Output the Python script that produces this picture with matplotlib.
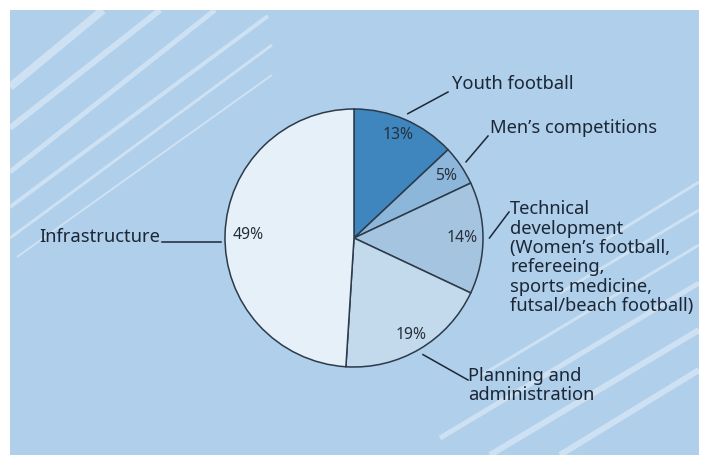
import matplotlib.pyplot as plt
from matplotlib.patches import Rectangle
import numpy as np

# data (shares in %)
categories = ["Youth football", "Men\u2019s competitions", "Technical development",
              "Planning and administration", "Infrastructure"]
shares = [13, 5, 14, 19, 49]
pct_labels = ["13%", "5%", "14%", "19%", "49%"]
label_lines = [
    ["Youth football"],
    ["Men\u2019s competitions"],
    ["Technical", "development", "(Women\u2019s football,", "refereeing,",
     "sports medicine,", "futsal/beach football)"],
    ["Planning and", "administration"],
    ["Infrastructure"],
]
colors = ["#3f86bf", "#8db7da", "#a5c4e0", "#c3d9ec", "#e5f0f8"]

W, H = 703, 455
BG = "#afcfeb"
TXT = "#1c2736"
EDGE = "#2c3a4a"

plt.rcParams['font.family'] = ['Noto Sans', 'DejaVu Sans']


def P(x, y):
    # picture pixels (y down) -> axes coords (y up)
    return x, H - y


fig = plt.figure(figsize=(W / 100, H / 100), dpi=100)
fig.patch.set_facecolor("white")
ax = fig.add_axes([0, 0, 1, 1])

# blue panel
ax.add_patch(Rectangle(P(10, 455), 689, 445, fc=BG, ec="none", zorder=0))

# decorative light stripes
stripes = [
    ((10, 87), (103, 10), 8), ((10, 128), (160, 10), 6), ((10, 172), (215, 10), 5),
    ((10, 207), (268, 16), 4), ((10, 238), (272, 45), 3), ((17, 257), (272, 75), 2),
    ((699, 182), (600, 243), 3), ((699, 210), (560, 293), 3), ((699, 245), (480, 376), 3),
    ((699, 283), (440, 438), 5), ((699, 330), (490, 455), 6), ((699, 370), (560, 455), 6),
]
for (x0, y0), (x1, y1), w in stripes:
    ax.plot([x0, x1], [H - y0, H - y1], color="white", alpha=0.38, lw=w * 0.72,
            solid_capstyle="butt", zorder=1)

cx, cy, R = 354, 238, 129
wedges, _ = ax.pie(shares, colors=colors, startangle=90, counterclock=False,
                   center=P(cx, cy), radius=R, frame=True,
                   wedgeprops=dict(edgecolor=EDGE, linewidth=1.1, zorder=2))

pct_dist = [0.87, 0.86, 0.84, 0.87, 0.82]
# leader end points and text anchors (picture pixels)
leader_end = [(448, 92), (488, 136), (509, 212), (468, 380), (162, 242)]
text_pos = [(452, 84), (490, 128), (510, 209), (468, 376), (160, 237)]
horizontal = [False, False, False, False, True]

for i, w in enumerate(wedges):
    th = np.deg2rad((w.theta1 + w.theta2) / 2)
    px = cx + R * pct_dist[i] * np.cos(th)
    py = H - cy + R * pct_dist[i] * np.sin(th)
    ax.text(px, py, pct_labels[i], ha="center", va="center", fontsize=11.3,
            color="#26303c", zorder=3)
    ex, ey = P(*leader_end[i])
    if horizontal[i]:
        r2 = R * 1.03
        sy = ey
        sx = cx + np.sign(np.cos(th)) * np.sqrt(r2 ** 2 - (sy - (H - cy)) ** 2)
    else:
        sx = cx + R * 1.05 * np.cos(th)
        sy = H - cy + R * 1.05 * np.sin(th)
    ax.plot([sx, ex], [sy, ey], color=TXT, lw=1.1, zorder=3)
    tx, ty = text_pos[i]
    ha = "right" if tx < cx else "left"
    for k, line in enumerate(label_lines[i]):
        ax.text(tx, H - (ty + k * 19.5), line, ha=ha, va="center",
                fontsize=13.2, color=TXT, zorder=3)

ax.set_xlim(0, W)
ax.set_ylim(0, H)
ax.set_aspect("equal")
ax.axis("off")

fig.savefig("out.png", dpi=100, facecolor="white")
